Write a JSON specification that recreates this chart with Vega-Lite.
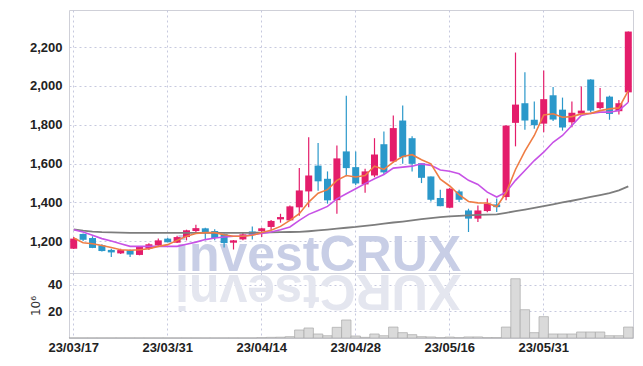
{
  "$schema": "https://vega.github.io/schema/vega-lite/v6.json",
  "background": "white",
  "padding": {"left": 28, "top": 9, "right": 5, "bottom": 5},
  "spacing": 0,
  "bounds": "flush",
  "config": {
    "view": {"stroke": "#cfd0d8", "strokeWidth": 1},
    "axis": {
      "labelFont": "Liberation Sans",
      "labelFontSize": 13,
      "labelFontWeight": "bold",
      "labelColor": "#222222",
      "gridColor": "#c6c9de",
      "gridDash": [2, 3],
      "gridWidth": 1,
      "ticks": false,
      "domain": false
    }
  },
  "data": {
    "values": [
      {"date": "23/03/17", "open": 1162, "high": 1222, "low": 1160, "close": 1214, "volume": 0.1, "ma5": 1217, "ma20": 1260, "ma60": 1262},
      {"date": "23/03/20", "open": 1238, "high": 1240, "low": 1202, "close": 1208, "volume": 0.1, "ma5": 1193, "ma20": 1248, "ma60": 1255},
      {"date": "23/03/21", "open": 1217, "high": 1226, "low": 1165, "close": 1166, "volume": 0.1, "ma5": 1188, "ma20": 1231, "ma60": 1250},
      {"date": "23/03/22", "open": 1180, "high": 1185, "low": 1148, "close": 1150, "volume": 0.1, "ma5": 1179, "ma20": 1214, "ma60": 1247},
      {"date": "23/03/23", "open": 1156, "high": 1162, "low": 1120, "close": 1143, "volume": 0.1, "ma5": 1168, "ma20": 1202, "ma60": 1246},
      {"date": "23/03/24", "open": 1138, "high": 1162, "low": 1135, "close": 1155, "volume": 0.1, "ma5": 1157, "ma20": 1188, "ma60": 1245},
      {"date": "23/03/27", "open": 1154, "high": 1158, "low": 1119, "close": 1132, "volume": 0.1, "ma5": 1154, "ma20": 1174, "ma60": 1244},
      {"date": "23/03/28", "open": 1130, "high": 1176, "low": 1128, "close": 1171, "volume": 0.1, "ma5": 1157, "ma20": 1174, "ma60": 1244},
      {"date": "23/03/29", "open": 1162, "high": 1190, "low": 1155, "close": 1185, "volume": 0.1, "ma5": 1162, "ma20": 1174, "ma60": 1244},
      {"date": "23/03/30", "open": 1179, "high": 1214, "low": 1175, "close": 1205, "volume": 0.1, "ma5": 1174, "ma20": 1174, "ma60": 1244},
      {"date": "23/03/31", "open": 1214, "high": 1218, "low": 1195, "close": 1195, "volume": 0.1, "ma5": 1183, "ma20": 1174, "ma60": 1244},
      {"date": "23/04/03", "open": 1193, "high": 1229, "low": 1192, "close": 1222, "volume": 0.1, "ma5": 1205, "ma20": 1174, "ma60": 1244},
      {"date": "23/04/04", "open": 1222, "high": 1260, "low": 1205, "close": 1257, "volume": 0.1, "ma5": 1226, "ma20": 1185, "ma60": 1244},
      {"date": "23/04/05", "open": 1253, "high": 1286, "low": 1248, "close": 1268, "volume": 0.1, "ma5": 1240, "ma20": 1196, "ma60": 1244},
      {"date": "23/04/06", "open": 1267, "high": 1270, "low": 1205, "close": 1248, "volume": 0.1, "ma5": 1245, "ma20": 1209, "ma60": 1244},
      {"date": "23/04/07", "open": 1253, "high": 1262, "low": 1205, "close": 1217, "volume": 0.1, "ma5": 1245, "ma20": 1217, "ma60": 1244},
      {"date": "23/04/10", "open": 1238, "high": 1240, "low": 1168, "close": 1191, "volume": 0.1, "ma5": 1234, "ma20": 1222, "ma60": 1244},
      {"date": "23/04/11", "open": 1193, "high": 1207, "low": 1158, "close": 1205, "volume": 0.1, "ma5": 1226, "ma20": 1226, "ma60": 1244},
      {"date": "23/04/12", "open": 1210, "high": 1246, "low": 1205, "close": 1236, "volume": 0.1, "ma5": 1226, "ma20": 1227, "ma60": 1244},
      {"date": "23/04/13", "open": 1251, "high": 1277, "low": 1210, "close": 1234, "volume": 0.1, "ma5": 1231, "ma20": 1234, "ma60": 1244},
      {"date": "23/04/14", "open": 1253, "high": 1270, "low": 1222, "close": 1267, "volume": 0.3, "ma5": 1245, "ma20": 1240, "ma60": 1245},
      {"date": "23/04/17", "open": 1274, "high": 1310, "low": 1258, "close": 1305, "volume": 0.5, "ma5": 1257, "ma20": 1248, "ma60": 1246},
      {"date": "23/04/18", "open": 1313, "high": 1342, "low": 1296, "close": 1325, "volume": 0.6, "ma5": 1277, "ma20": 1260, "ma60": 1247},
      {"date": "23/04/19", "open": 1308, "high": 1385, "low": 1305, "close": 1380, "volume": 1.0, "ma5": 1308, "ma20": 1274, "ma60": 1248},
      {"date": "23/04/20", "open": 1375, "high": 1578, "low": 1332, "close": 1462, "volume": 6.0, "ma5": 1342, "ma20": 1308, "ma60": 1249},
      {"date": "23/04/21", "open": 1457, "high": 1736, "low": 1376, "close": 1539, "volume": 7.5, "ma5": 1402, "ma20": 1339, "ma60": 1252},
      {"date": "23/04/24", "open": 1590, "high": 1706, "low": 1460, "close": 1509, "volume": 3.0, "ma5": 1448, "ma20": 1359, "ma60": 1256},
      {"date": "23/04/25", "open": 1522, "high": 1560, "low": 1394, "close": 1411, "volume": 1.7, "ma5": 1466, "ma20": 1380, "ma60": 1260},
      {"date": "23/04/26", "open": 1412, "high": 1693, "low": 1342, "close": 1627, "volume": 8.0, "ma5": 1514, "ma20": 1419, "ma60": 1265},
      {"date": "23/04/27", "open": 1663, "high": 1950, "low": 1535, "close": 1577, "volume": 13.5, "ma5": 1539, "ma20": 1445, "ma60": 1270},
      {"date": "23/04/28", "open": 1582, "high": 1662, "low": 1490, "close": 1498, "volume": 1.5, "ma5": 1531, "ma20": 1471, "ma60": 1274},
      {"date": "23/05/02", "open": 1493, "high": 1574, "low": 1450, "close": 1560, "volume": 0.5, "ma5": 1539, "ma20": 1497, "ma60": 1280},
      {"date": "23/05/03", "open": 1539, "high": 1731, "low": 1530, "close": 1647, "volume": 3.0, "ma5": 1587, "ma20": 1522, "ma60": 1285},
      {"date": "23/05/04", "open": 1700, "high": 1765, "low": 1545, "close": 1555, "volume": 1.7, "ma5": 1570, "ma20": 1544, "ma60": 1291},
      {"date": "23/05/08", "open": 1611, "high": 1848, "low": 1605, "close": 1783, "volume": 8.2, "ma5": 1608, "ma20": 1577, "ma60": 1297},
      {"date": "23/05/09", "open": 1822, "high": 1899, "low": 1600, "close": 1633, "volume": 4.0, "ma5": 1637, "ma20": 1582, "ma60": 1302},
      {"date": "23/05/10", "open": 1731, "high": 1741, "low": 1560, "close": 1599, "volume": 2.5, "ma5": 1646, "ma20": 1587, "ma60": 1308},
      {"date": "23/05/11", "open": 1602, "high": 1602, "low": 1500, "close": 1527, "volume": 1.0, "ma5": 1620, "ma20": 1599, "ma60": 1314},
      {"date": "23/05/12", "open": 1534, "high": 1534, "low": 1405, "close": 1414, "volume": 0.8, "ma5": 1599, "ma20": 1591, "ma60": 1319},
      {"date": "23/05/15", "open": 1423, "high": 1466, "low": 1381, "close": 1381, "volume": 0.3, "ma5": 1520, "ma20": 1567, "ma60": 1325},
      {"date": "23/05/16", "open": 1373, "high": 1475, "low": 1370, "close": 1471, "volume": 0.7, "ma5": 1485, "ma20": 1561, "ma60": 1329},
      {"date": "23/05/17", "open": 1457, "high": 1466, "low": 1403, "close": 1414, "volume": 0.3, "ma5": 1440, "ma20": 1548, "ma60": 1331},
      {"date": "23/05/18", "open": 1359, "high": 1368, "low": 1248, "close": 1317, "volume": 0.8, "ma5": 1405, "ma20": 1514, "ma60": 1334},
      {"date": "23/05/19", "open": 1317, "high": 1385, "low": 1300, "close": 1359, "volume": 0.8, "ma5": 1398, "ma20": 1493, "ma60": 1336},
      {"date": "23/05/22", "open": 1356, "high": 1420, "low": 1350, "close": 1394, "volume": 0.3, "ma5": 1397, "ma20": 1453, "ma60": 1338},
      {"date": "23/05/23", "open": 1390, "high": 1420, "low": 1351, "close": 1376, "volume": 0.3, "ma5": 1378, "ma20": 1428, "ma60": 1339},
      {"date": "23/05/24", "open": 1428, "high": 1798, "low": 1411, "close": 1796, "volume": 8.2, "ma5": 1450, "ma20": 1453, "ma60": 1347},
      {"date": "23/05/25", "open": 1810, "high": 2172, "low": 1689, "close": 1904, "volume": 44.4, "ma5": 1570, "ma20": 1514, "ma60": 1355},
      {"date": "23/05/26", "open": 1911, "high": 2070, "low": 1774, "close": 1822, "volume": 21.2, "ma5": 1665, "ma20": 1565, "ma60": 1363},
      {"date": "23/05/30", "open": 1826, "high": 1920, "low": 1779, "close": 1798, "volume": 4.0, "ma5": 1745, "ma20": 1616, "ma60": 1372},
      {"date": "23/05/31", "open": 1806, "high": 2079, "low": 1762, "close": 1932, "volume": 16.0, "ma5": 1851, "ma20": 1659, "ma60": 1381},
      {"date": "23/06/01", "open": 1952, "high": 1995, "low": 1820, "close": 1827, "volume": 3.0, "ma5": 1857, "ma20": 1710, "ma60": 1390},
      {"date": "23/06/02", "open": 1878, "high": 1940, "low": 1770, "close": 1786, "volume": 3.0, "ma5": 1839, "ma20": 1745, "ma60": 1400},
      {"date": "23/06/05", "open": 1813, "high": 1920, "low": 1787, "close": 1862, "volume": 3.0, "ma5": 1842, "ma20": 1796, "ma60": 1409},
      {"date": "23/06/07", "open": 1858, "high": 1997, "low": 1856, "close": 1873, "volume": 4.5, "ma5": 1856, "ma20": 1848, "ma60": 1419},
      {"date": "23/06/08", "open": 2033, "high": 2035, "low": 1865, "close": 1873, "volume": 4.5, "ma5": 1859, "ma20": 1859, "ma60": 1429},
      {"date": "23/06/09", "open": 1886, "high": 1990, "low": 1880, "close": 1916, "volume": 4.5, "ma5": 1873, "ma20": 1865, "ma60": 1438},
      {"date": "23/06/12", "open": 1945, "high": 1950, "low": 1826, "close": 1856, "volume": 1.7, "ma5": 1882, "ma20": 1865, "ma60": 1448},
      {"date": "23/06/13", "open": 1870, "high": 1928, "low": 1853, "close": 1911, "volume": 1.7, "ma5": 1887, "ma20": 1873, "ma60": 1462},
      {"date": "23/06/14", "open": 1967, "high": 2280, "low": 1916, "close": 2280, "volume": 8.2, "ma5": 1976, "ma20": 1916, "ma60": 1483}
    ]
  },
  "vconcat": [
    {
      "width": 564,
      "height": 263,
      "layer": [
        {
          "data": {"values": [{"label": "investCRUX"}]},
          "mark": {"type": "text", "font": "Liberation Sans", "fontWeight": "bold", "fontSize": 50, "align": "center", "baseline": "alphabetic", "color": "#c8cee6", "clip": true},
          "encoding": {
            "x": {"datum": "23/04/24", "type": "ordinal"},
            "y": {"datum": 1049, "type": "quantitative"},
            "text": {"field": "label"}
          }
        },
        {
          "mark": {"type": "rule", "strokeWidth": 1.2},
          "encoding": {
            "x": {"field": "date", "type": "ordinal", "scale": {"paddingInner": 0, "paddingOuter": 0}, "axis": {"values": ["23/03/17", "23/03/31", "23/04/14", "23/04/28", "23/05/16", "23/05/31"], "labels": false, "grid": true, "bandPosition": 0.5, "title": null}},
            "y": {"field": "low", "type": "quantitative", "scale": {"domain": [1037, 2391], "nice": false, "zero": false}, "axis": {"values": [1200, 1400, 1600, 1800, 2000, 2200], "format": ",.0f", "title": null, "grid": true, "labelPadding": 7}},
            "y2": {"field": "high"},
            "color": {"condition": {"test": "datum.close >= datum.open", "value": "#e41d6b"}, "value": "#2b98ca"}
          }
        },
        {
          "mark": {"type": "bar", "size": 7},
          "encoding": {
            "x": {"field": "date", "type": "ordinal"},
            "y": {"field": "open", "type": "quantitative"},
            "y2": {"field": "close"},
            "color": {"condition": {"test": "datum.close >= datum.open", "value": "#e41d6b"}, "value": "#2b98ca"}
          }
        },
        {
          "mark": {"type": "line", "color": "#7d7d7d", "strokeWidth": 1.8},
          "encoding": {"x": {"field": "date", "type": "ordinal"}, "y": {"field": "ma60", "type": "quantitative"}}
        },
        {
          "mark": {"type": "line", "color": "#c752e6", "strokeWidth": 1.6},
          "encoding": {"x": {"field": "date", "type": "ordinal"}, "y": {"field": "ma20", "type": "quantitative"}}
        },
        {
          "mark": {"type": "line", "color": "#ef7d44", "strokeWidth": 1.6},
          "encoding": {"x": {"field": "date", "type": "ordinal"}, "y": {"field": "ma5", "type": "quantitative"}}
        }
      ]
    },
    {
      "width": 564,
      "height": 65,
      "layer": [
        {
          "data": {"values": [{"label": "XURCtsevni"}]},
          "mark": {"type": "text", "font": "Liberation Sans", "fontWeight": "bold", "fontSize": 50, "align": "center", "baseline": "alphabetic", "angle": 180, "color": "#e4e6ef", "clip": true},
          "encoding": {
            "x": {"datum": "23/04/24", "type": "ordinal"},
            "y": {"datum": 47, "type": "quantitative"},
            "text": {"field": "label"}
          }
        },
        {
          "mark": {"type": "bar", "fill": "#dadada", "stroke": "#a9a9a9", "strokeWidth": 0.7},
          "encoding": {
            "x": {"field": "date", "type": "ordinal", "scale": {"paddingInner": 0, "paddingOuter": 0}, "axis": {"values": ["23/03/17", "23/03/31", "23/04/14", "23/04/28", "23/05/16", "23/05/31"], "labelAngle": 0, "labelAlign": "center", "grid": true, "bandPosition": 0.5, "title": null, "labelPadding": 9}},
            "y": {"field": "volume", "type": "quantitative", "scale": {"domain": [0, 48.7], "nice": false}, "axis": {"values": [20, 40], "title": "10⁶", "titleFont": "DejaVu Sans", "titleFontWeight": "normal", "titleFontSize": 12, "titleColor": "#333333", "titlePadding": 5, "grid": true, "labelPadding": 7}}
          }
        }
      ]
    }
  ]
}
